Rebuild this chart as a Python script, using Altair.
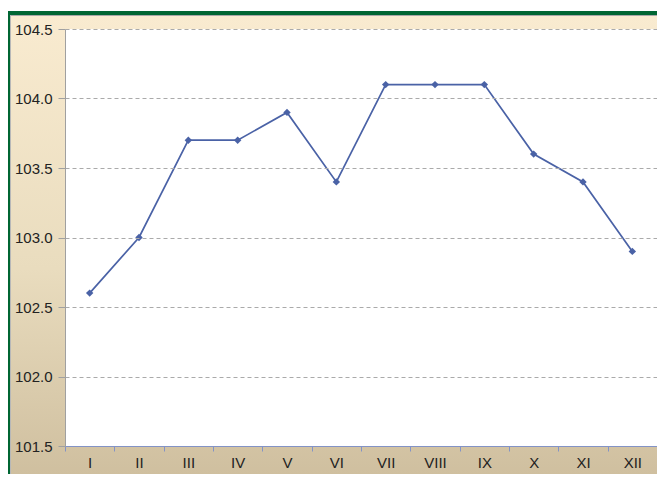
import altair as alt
import pandas as pd

months = ["I", "II", "III", "IV", "V", "VI", "VII", "VIII", "IX", "X", "XI", "XII"]
values = [102.6, 103.0, 103.7, 103.7, 103.9, 103.4, 104.1, 104.1, 104.1, 103.6, 103.4, 102.9]
y_ticks = [101.5, 102.0, 102.5, 103.0, 103.5, 104.0, 104.5]

W, H = 592, 417
TOP, LEFT, BOTTOM = 21, 57, 28

df = pd.DataFrame({"month": months, "pos": [i + 0.5 for i in range(len(months))], "value": values})

label_expr = "[" + ",".join(f"'{m}'" for m in months) + ",''][datum.value]"

one = alt.Data(values=[{}])

grad = alt.LinearGradient(
    gradient="linear",
    stops=[alt.GradientStop(color="#F9EBD0", offset=0), alt.GradientStop(color="#E9DCBE", offset=0.55),
           alt.GradientStop(color="#CFBF9F", offset=1)],
    x1=0, x2=0, y1=0, y2=1,
)

g0 = 3 - TOP  # top of green bar relative to plot
bg = alt.Chart(one).mark_rect(color=grad).encode(
    x=alt.value(-LEFT + 3), x2=alt.value(W + 10), y=alt.value(g0 + 5), y2=alt.value(H + BOTTOM + 2))
green_top = alt.Chart(one).mark_rect(color="#006633").encode(
    x=alt.value(-LEFT - 2), x2=alt.value(W + 10), y=alt.value(g0), y2=alt.value(g0 + 4))
gray_top = alt.Chart(one).mark_rect(color="#A8A8A8").encode(
    x=alt.value(-LEFT + 2), x2=alt.value(W + 10), y=alt.value(g0 + 4), y2=alt.value(g0 + 5))
green_left = alt.Chart(one).mark_rect(color="#006633").encode(
    x=alt.value(-LEFT - 2), x2=alt.value(-LEFT + 2), y=alt.value(g0), y2=alt.value(H + BOTTOM + 2))
gray_left = alt.Chart(one).mark_rect(color="#B8B8B8").encode(
    x=alt.value(-LEFT + 2), x2=alt.value(-LEFT + 3), y=alt.value(g0 + 4), y2=alt.value(H + BOTTOM + 2))
plot_bg = alt.Chart(one).mark_rect(color="white").encode(
    x=alt.value(0), x2=alt.value(W), y=alt.value(0), y2=alt.value(H))

line = alt.Chart(df).mark_line(
    color="#4A62A6", strokeWidth=1.7,
    point=alt.OverlayMarkDef(shape="diamond", size=55, filled=True, color="#4A62A6"),
).encode(
    x=alt.X("pos:Q", scale=alt.Scale(domain=[0, 12], nice=False, zero=False),
            axis=alt.Axis(values=list(range(13)), labelExpr=label_expr, labelOffset=W / 24,
                          grid=False, title=None, domainColor="#8393C6", tickColor="#8393C6",
                          tickSize=5, labelPadding=4, labelFont="Liberation Sans",
                          labelFontSize=15, labelColor="#222222", labelFlush=False,
                          labelOverlap=False, zindex=1)),
    y=alt.Y("value:Q", scale=alt.Scale(domain=[101.5, 104.5], nice=False, zero=False),
            axis=alt.Axis(values=y_ticks, format=".1f", title=None, grid=True, gridColor="#AAAAAA",
                          gridDash=[4, 3], gridWidth=1, domainColor="#A0A0A0", tickColor="#A0A0A0",
                          tickSize=7, labelPadding=6, labelFont="Liberation Sans",
                          labelFontSize=15, labelColor="#222222", labelFlush=False, zindex=1)),
)

chart = alt.layer(bg, green_top, gray_top, green_left, gray_left, plot_bg, line).properties(
    width=W, height=H,
    autosize=alt.AutoSizeParams(type="none"),
    padding={"left": LEFT, "top": TOP, "right": 0, "bottom": BOTTOM},
).configure_view(strokeWidth=0)

chart.save("out.html", embed_options={"renderer": "svg", "actions": False})
